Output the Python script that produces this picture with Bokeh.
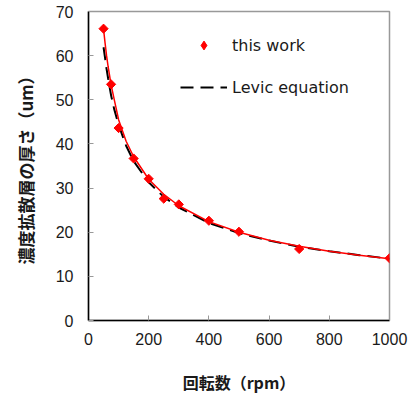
from bokeh.plotting import figure
from bokeh.models import Range1d, Legend, LegendItem, FixedTicker
from bokeh.embed import file_html
from bokeh.resources import INLINE
import numpy as np

# measured data (this work)
rpm = [50, 75, 100, 150, 200, 250, 300, 400, 500, 700, 1000]
thickness = [66.1, 53.5, 43.6, 36.7, 32.1, 27.6, 26.3, 22.6, 20.1, 16.2, 14.1]

# fitted curve through the data
fit_x = [50, 55, 60, 65, 75, 85, 100, 125, 150, 200, 250, 300, 400, 500, 600, 700, 800, 900, 1000]
fit_y = [66.0, 62.9, 60.0, 57.6, 53.4, 50.2, 45.5, 40.6, 37.1, 32.0, 28.6, 26.0, 22.4, 20.0, 18.2, 16.8, 15.7, 14.8, 14.0]

# Levich equation curve
lev_x = [50, 55, 60, 65, 75, 85, 100, 125, 150, 200, 250, 300, 400, 500, 600, 700, 800, 900, 1000]
lev_y = [61.9, 59.5, 57.0, 54.9, 51.0, 48.0, 44.3, 39.6, 36.1, 31.3, 28.0, 25.6, 22.1, 19.8, 18.1, 16.7, 15.7, 14.8, 14.0]

x_ticks = [0, 200, 400, 600, 800, 1000]
y_ticks = [0, 10, 20, 30, 40, 50, 60, 70]

p = figure(width=410, height=401, output_backend="svg", toolbar_location=None,
           x_range=Range1d(0, 1000), y_range=Range1d(0, 70),
           min_border_left=88, min_border_right=21, min_border_top=11, min_border_bottom=81)

p.background_fill_color = "white"
p.border_fill_color = "white"
p.outline_line_color = "#999999"
p.outline_line_width = 1.5
p.xgrid.visible = False
p.ygrid.visible = False

for ax in (p.xaxis, p.yaxis):
    ax.axis_line_color = "black"
    ax.axis_line_width = 1.5
    ax.major_tick_in = 5
    ax.major_tick_out = 0
    ax.major_tick_line_color = "#999999"
    ax.minor_tick_line_color = None
    ax.major_label_text_font = "Liberation Sans"
    ax.major_label_text_font_size = "16px"
    ax.major_label_text_color = "#1a1a1a"
    ax.axis_label_text_font = "Noto Sans CJK JP"
    ax.axis_label_text_font_style = "bold"
    ax.axis_label_text_color = "#1a1a1a"

p.xaxis.ticker = FixedTicker(ticks=x_ticks)
p.yaxis.ticker = FixedTicker(ticks=y_ticks)
p.xaxis.major_label_standoff = 12
p.yaxis.major_label_standoff = 15

p.yaxis.axis_label = "濃度拡散層の厚さ（um）"
p.yaxis.axis_label_text_font_size = "17px"
p.yaxis.axis_label_standoff = 15

p.xaxis.axis_label = "回転数（rpm）"
p.xaxis.axis_label_text_font_size = "16px"
p.xaxis.axis_label_standoff = 22

lev = p.line(lev_x, lev_y, line_color="black", line_width=2, line_dash="13 7")
fit = p.line(fit_x, fit_y, line_color="#ff0000", line_width=1.5)
pts = p.scatter(rpm, thickness, marker="square", angle=np.pi / 4, size=6.5,
                fill_color="#ff0000", line_color="#ff0000")
# legend-only proxy (never visible: NaN position) so the key shows a diamond
pts_key = p.scatter(x=[np.nan], y=[np.nan], marker="diamond", size=10,
                    fill_color="#ff0000", line_color="#ff0000")

legend = Legend(items=[LegendItem(label="this work", renderers=[pts_key]),
                       LegendItem(label="Levic equation", renderers=[lev])],
                location=(92, 222), glyph_width=47, glyph_height=22, label_height=20,
                label_standoff=5, spacing=20, padding=0, margin=0,
                border_line_color=None, background_fill_alpha=0,
                label_text_font="DejaVu Sans", label_text_font_size="16px",
                label_text_color="#1a1a1a")
p.add_layout(legend)

open("out.html", "w").write(file_html(p, INLINE))
